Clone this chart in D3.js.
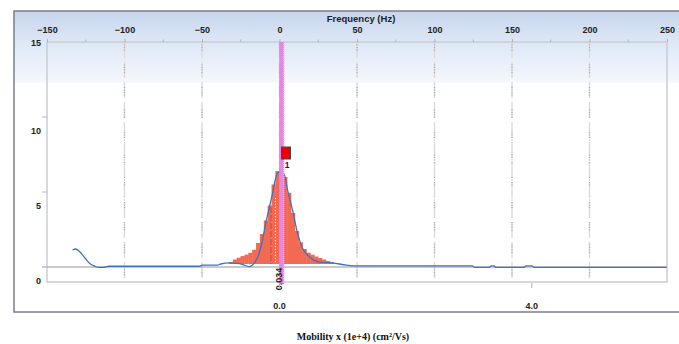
<!DOCTYPE html>
<html>
<head>
<meta charset="utf-8">
<script src="https://cdn.jsdelivr.net/npm/d3@7"></script>
<style>
  body { margin: 0; background: #fff; }
  svg text { font-family: "Liberation Sans", Arial, sans-serif; }
</style>
</head>
<body>
<div id="chart"></div>
<script>
// top axis (Hz)
const freqTicks = [-150, -100, -50, 0, 50, 100, 150, 200, 250];
const freqMinor = [-125, -75, -25, 25, 75, 125, 175, 225];
const gridFreqs = [-100, -50, 0, 50, 100, 150, 200];
// left axis
const yTicks = [0, 5, 10, 15];
// bottom axis (mobility)
const mobTicks = [0.0, 4.0];
const hzPerMobility = 40.7;

// spectrum trace (blue)
const specFreq = [-133.5, -131.6, -129, -126.5, -124.5, -122, -119.4, -116.8, -113.5, -110.3,
  -84, -51.6, -49.7, -40, -38, -32.3, -25.8, -21.9, -19.4, -17.4, -15, -12.9, -11, -8.7,
  -6.5, -4.5, -3.2, -1.3, 1.1, 3.2, 5.2, 6.8, 8.4, 11.6, 14.8, 19.4, 25.8, 34.2, 43.2, 51.6,
  124.5, 125.8, 135.5, 136.5, 138.4, 139.4, 158, 159, 163, 164.2, 249.7];
const specVal = [1.13, 1.2, 1.03, 0.73, 0.47, 0.2, 0.07, -0.03, -0.02, 0.05,
  0.05, 0.05, 0.13, 0.13, 0.2, 0.27, 0.22, 0.1, 0.02, 0.13, 0.47, 1.0, 1.8, 3.0,
  4.0, 4.93, 5.6, 6.27, 6.35, 6.13, 5.13, 4.47, 3.8, 2.27, 1.27, 0.67, 0.33, 0.27, 0.13, 0.07,
  0.07, -0.02, -0.02, 0.07, 0.07, -0.02, -0.02, 0.07, 0.07, -0.02, -0.02];

// fitted histogram (red)
const binFreq = [-31.25, -28.75, -26.25, -23.75, -21.25, -18.75, -16.25, -13.75, -11.25, -8.75,
  -6.25, -3.75, -1.25, 1.25, 3.75, 6.25, 8.75, 11.25, 13.75, 16.25, 18.75, 21.25, 23.75,
  26.25, 28.75, 31.25, 33.75];
const binVal = [0.33, 0.5, 0.62, 0.73, 0.82, 0.95, 1.15, 1.6, 2.2, 3.1,
  4.1, 5.5, 6.4, 6.55, 6.0, 4.95, 3.6, 2.4, 1.65, 1.2, 0.95, 0.82, 0.7,
  0.6, 0.5, 0.4, 0.33];
const binWidth = 2.5;
const binBase = 0.2;

// peak marker
const peakMobility = 0.034;
const markerFreq = 4.2;
const markerTop = 8.0;
const markerBottom = 7.2;
const markerLabel = "1";

const width = 679, height = 344;

const x = d3.scaleLinear().domain([-150, 250]).range([47, 667]);
const y = d3.scaleLinear().domain([-1, 15]).range([282, 42]);
const mob = d3.scaleLinear()
  .domain([-150 / hzPerMobility, 250 / hzPerMobility])
  .range([47, 667]);

const svg = d3.select('#chart').append('svg')
  .attr('width', width)
  .attr('height', height);

const defs = svg.append('defs');
const grad = defs.append('linearGradient')
  .attr('id', 'panelGrad')
  .attr('x1', 0).attr('y1', 0).attr('x2', 0).attr('y2', 1);
grad.append('stop').attr('offset', 0).attr('stop-color', '#c6d5ed');
grad.append('stop').attr('offset', 0.11).attr('stop-color', '#dfe8f6');
grad.append('stop').attr('offset', 0.235).attr('stop-color', '#f4f7fc');
grad.append('stop').attr('offset', 0.24).attr('stop-color', '#ffffff');
grad.append('stop').attr('offset', 1).attr('stop-color', '#ffffff');

// panel
svg.append('rect')
  .attr('x', 14).attr('y', 11)
  .attr('width', 700).attr('height', 301)
  .attr('fill', 'url(#panelGrad)')
  .attr('stroke', '#7b8088')
  .attr('stroke-width', 1.5);

// grid lines
const grid = svg.append('g');
grid.selectAll('line.base')
  .data(gridFreqs)
  .join('line')
  .attr('class', 'base')
  .attr('x1', d => x(d)).attr('x2', d => x(d))
  .attr('y1', y(15)).attr('y2', y(-1))
  .attr('stroke', '#dadada')
  .attr('stroke-width', 1.4)
  .attr('stroke-dasharray', '16,4');
grid.selectAll('line.dots')
  .data(gridFreqs)
  .join('line')
  .attr('class', 'dots')
  .attr('x1', d => x(d)).attr('x2', d => x(d))
  .attr('y1', y(15)).attr('y2', y(-1))
  .attr('stroke', '#a9a9a9')
  .attr('stroke-width', 1.2)
  .attr('stroke-dasharray', '1,1.5,1,1.5,1,1.5,1,14');

// plot frame
svg.append('path')
  .attr('d', `M${x(-150)},${y(15)}H${x(250)}V${y(-1)}H${x(-150)}Z`)
  .attr('fill', 'none')
  .attr('stroke', '#c9cdd3')
  .attr('stroke-width', 1.5);

// zero line
svg.append('line')
  .attr('x1', x(-150) - 5).attr('x2', x(250))
  .attr('y1', y(0)).attr('y2', y(0))
  .attr('stroke', '#b9b9b9')
  .attr('stroke-width', 1.3);

// top axis
const topAxis = d3.axisTop(x).tickValues(freqTicks).tickSize(3).tickPadding(6);
const gTop = svg.append('g').attr('transform', `translate(0,${y(15)})`).call(topAxis);
gTop.select('.domain').remove();
gTop.selectAll('line').attr('stroke', '#b0b4ba');
gTop.selectAll('text')
  .attr('font-size', 9).attr('font-weight', 'bold').attr('fill', '#222');
svg.append('g').selectAll('line')
  .data(freqMinor)
  .join('line')
  .attr('x1', d => x(d)).attr('x2', d => x(d))
  .attr('y1', y(15) - 2.5).attr('y2', y(15))
  .attr('stroke', '#b0b4ba');
svg.append('text')
  .attr('x', 361).attr('y', 22)
  .attr('text-anchor', 'middle')
  .attr('font-size', 9.5).attr('font-weight', 'bold').attr('fill', '#222')
  .text('Frequency (Hz)');

// left axis
svg.append('g').selectAll('line')
  .data(yTicks.filter(d => d > 0 && d < 15))
  .join('line')
  .attr('x1', x(-150) - 5).attr('x2', x(-150))
  .attr('y1', d => y(d)).attr('y2', d => y(d))
  .attr('stroke', '#b9b9b9');
svg.append('g').selectAll('text')
  .data(yTicks)
  .join('text')
  .attr('x', 41)
  .attr('y', d => (d === 15 ? y(d) + 1 : y(d) + 13.5))
  .attr('dy', '0.35em')
  .attr('text-anchor', 'end')
  .attr('font-size', 9).attr('font-weight', 'bold').attr('fill', '#222')
  .text(d => d);

// red histogram
svg.append('g').selectAll('rect')
  .data(binFreq.map((f, i) => ({ f, v: binVal[i] })))
  .join('rect')
  .attr('x', d => x(d.f - binWidth / 2) - 0.2)
  .attr('width', x(binWidth) - x(0) + 0.4)
  .attr('y', d => y(d.v))
  .attr('height', d => y(binBase) - y(d.v))
  .attr('fill', '#f36a53');

// texture inside the peak
svg.append('line')
  .attr('x1', x(-5.5)).attr('x2', x(-5.5))
  .attr('y1', y(4.0)).attr('y2', y(binBase))
  .attr('stroke', '#c9503c').attr('stroke-width', 2).attr('opacity', 0.6)
  .attr('stroke-dasharray', '6,2');
svg.append('line')
  .attr('x1', x(-2.6)).attr('x2', x(-2.6))
  .attr('y1', y(4.6)).attr('y2', y(binBase))
  .attr('stroke', '#ffe9e4').attr('stroke-width', 1)
  .attr('stroke-dasharray', '1,2');

// blue spectrum
const line = d3.line()
  .x(d => x(d[0]))
  .y(d => y(d[1]))
  .curve(d3.curveMonotoneX);
svg.append('path')
  .datum(specFreq.map((f, i) => [f, specVal[i]]))
  .attr('d', line)
  .attr('fill', 'none')
  .attr('stroke', '#3f72c0')
  .attr('stroke-width', 1.3);

// peak band
const peakX = mob(peakMobility);
svg.append('rect')
  .attr('x', peakX - 2.5).attr('width', 5)
  .attr('y', y(15)).attr('height', y(-1) - y(15) + 2)
  .attr('fill', '#e585e5');
svg.append('line')
  .attr('x1', peakX + 2).attr('x2', peakX + 2)
  .attr('y1', y(15)).attr('y2', y(-1) + 2)
  .attr('stroke', '#f4b8f4').attr('stroke-width', 1)
  .attr('stroke-dasharray', '1,1');

// marker
svg.append('rect')
  .attr('x', x(markerFreq) - 4.5).attr('width', 9)
  .attr('y', y(markerTop)).attr('height', y(markerBottom) - y(markerTop))
  .attr('fill', '#ee0000')
  .attr('stroke', '#444').attr('stroke-width', 1);
svg.append('text')
  .attr('x', x(markerFreq) + 1).attr('y', y(markerBottom) + 9)
  .attr('text-anchor', 'middle')
  .attr('font-size', 8.5).attr('font-weight', 'bold').attr('fill', '#222')
  .text(markerLabel);

// peak value label
svg.append('text')
  .attr('transform', `translate(${peakX - 2.5},${y(-0.8)}) rotate(-90)`)
  .attr('dy', '0.35em')
  .attr('text-anchor', 'middle')
  .attr('font-size', 9).attr('font-weight', 'bold').attr('fill', '#222')
  .text(peakMobility.toFixed(3));

// bottom axis (mobility)
svg.append('g').selectAll('line')
  .data(mobTicks)
  .join('line')
  .attr('x1', d => mob(d)).attr('x2', d => mob(d))
  .attr('y1', y(-1) + 1).attr('y2', y(-1) + 6)
  .attr('stroke', '#b0b4ba');
svg.append('g').selectAll('text')
  .data(mobTicks)
  .join('text')
  .attr('x', d => mob(d))
  .attr('y', 308.5)
  .attr('text-anchor', 'middle')
  .attr('font-size', 9).attr('font-weight', 'bold').attr('fill', '#222')
  .text(d => d.toFixed(1));

svg.append('text')
  .attr('x', 353).attr('y', 340)
  .attr('text-anchor', 'middle')
  .style('font-family', '"Liberation Serif", "Times New Roman", serif')
  .attr('font-size', 10).attr('font-weight', 'bold').attr('fill', '#111')
  .text('Mobility x (1e+4) (cm²/Vs)');
</script>
</body>
</html>
